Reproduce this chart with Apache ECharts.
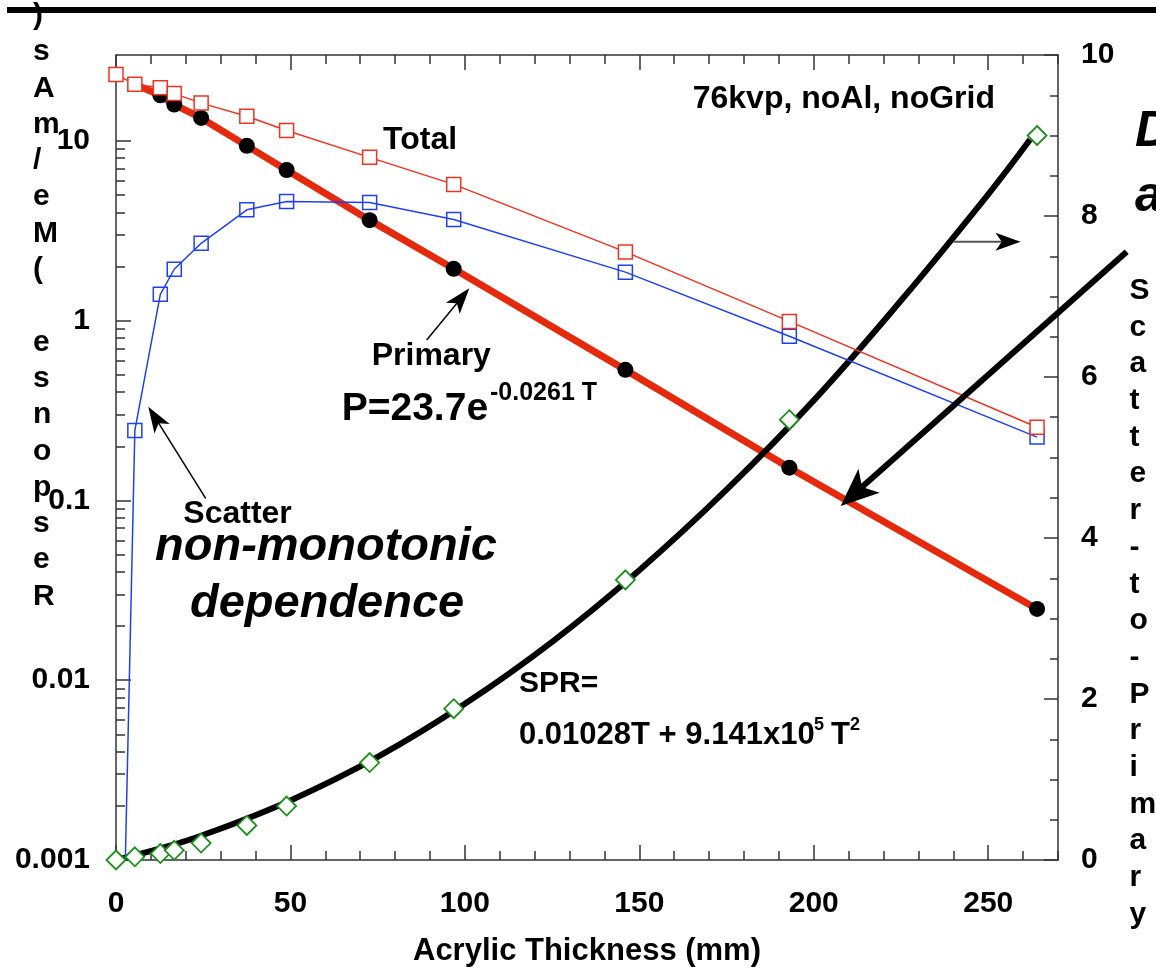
<!DOCTYPE html>
<html>
<head>
<meta charset="utf-8">
<title>Response vs Acrylic Thickness</title>
<script src="https://cdn.jsdelivr.net/npm/echarts@6.0.0/dist/echarts.min.js"></script>
<style>
  html, body { margin: 0; padding: 0; background: #fff; }
  #chart { width: 1156px; height: 968px; }
</style>
</head>
<body>
<div id="chart"></div>
<script>
// acrylic thickness (mm) of each measurement
var thickness = [0, 5.4, 12.7, 16.7, 24.4, 37.5, 48.9, 72.7, 96.8, 146, 193, 264];
// Total response (red squares), left log axis
var total = [23.4, 20.6, 19.7, 18.3, 16.2, 13.7, 11.4, 8.09, 5.72, 2.41, 0.99, 0.255];
// Scatter response (blue squares); first point is essentially zero (line leaves the axis)
var scatter = [0.0000045, 0.245, 1.40, 1.93, 2.69, 4.13, 4.60, 4.54, 3.65, 1.86, 0.818, 0.225];
// Primary response (black dots), first two hidden under the squares
var primary = [null, null, 17.9, 15.9, 13.4, 9.37, 6.88, 3.62, 1.94, 0.532, 0.152, 0.0249];
// thick red primary fit line
var primaryFitT = [5.4, 12.7, 16.7, 24.4, 37.5, 48.9, 72.7, 96.8, 146, 193, 264];
var primaryFit = [20.6, 17.9, 15.9, 13.4, 9.37, 6.88, 3.62, 1.94, 0.532, 0.152, 0.0249];
// scatter-to-primary ratio (green diamonds), right axis
var spr = [0, 0.04, 0.08, 0.12, 0.21, 0.43, 0.67, 1.21, 1.88, 3.48, 5.47, 9.0];
// black SPR fit curve
var sprFitT = [0, 12.5, 25, 50, 75, 100, 125, 150, 175, 200, 225, 250, 262];
var sprFit = [0, 0.14, 0.31, 0.74, 1.28, 1.94, 2.71, 3.6, 4.6, 5.71, 6.95, 8.27, 8.95];

var xMajorTicks = [0, 50, 100, 150, 200, 250];
var yLeftTitle = 'Response (Me/mAs)';
var yRightTitle = 'Scatter-to-Primary';

// minor ticks of the log axis: 2..9 in every decade
var logMinorTicks = [];
for (var k = -3; k <= 0; k++) {
    for (var m = 2; m <= 9; m++) {
        logMinorTicks.push(+(m * Math.pow(10, k)).toPrecision(3));
    }
}

var FONT = '"Liberation Sans", Arial, Helvetica, sans-serif';
var AXIS_COLOR = '#333';
var RED = '#ee3322';
var RED_THICK = '#e5290d';
var BLUE = '#2040f0';
var GREEN = '#1a8f1a';

function pairs(xs, ys) {
    var out = [];
    for (var i = 0; i < xs.length; i++) {
        if (ys[i] != null) out.push([xs[i], ys[i]]);
    }
    return out;
}

// text placed by its baseline
function txt(str, x, base, size, style) {
    return {
        type: 'text', x: x, y: base - 0.35 * size, z: 100,
        style: {
            text: str,
            font: (style || 'bold') + ' ' + size + 'px ' + FONT,
            fill: '#000',
            align: 'left',
            verticalAlign: 'middle'
        }
    };
}

// arrow from (x1,y1) to tip (x2,y2)
function arrow(x1, y1, x2, y2, w, headLen, headW, color, headColor) {
    var dx = x2 - x1, dy = y2 - y1;
    var len = Math.sqrt(dx * dx + dy * dy);
    var ux = dx / len, uy = dy / len;
    var px = -uy, py = ux;
    var bx = x2 - ux * headLen, by = y2 - uy * headLen;
    var nx = x2 - ux * headLen * 0.75, ny = y2 - uy * headLen * 0.75;
    return [
        { type: 'line', z: 100, shape: { x1: x1, y1: y1, x2: nx, y2: ny },
          style: { stroke: color, lineWidth: w } },
        { type: 'polygon', z: 100,
          shape: { points: [[x2, y2], [bx + px * headW / 2, by + py * headW / 2], [nx, ny], [bx - px * headW / 2, by - py * headW / 2]] },
          style: { fill: headColor || color } }
    ];
}

function stacked(str) {
    return str.split('').join('\n');
}

var labelStyle = { color: '#000', fontSize: 30, fontWeight: 'bold', fontFamily: FONT };

var graphics = [
    // rule at the top of the slide
    { type: 'line', z: 100, shape: { x1: 7, y1: 10, x2: 1156, y2: 10 }, style: { stroke: '#000', lineWidth: 6 } },
    {
        type: 'text', x: 33, y: -2.5, z: 100,
        style: {
            text: stacked(yLeftTitle.split('').reverse().join('')),
            font: 'bold 30px ' + FONT, fill: '#000', align: 'left', verticalAlign: 'top', lineHeight: 36.3
        }
    },
    {
        type: 'text', x: 1129.5, y: 272.3, z: 100,
        style: {
            text: stacked(yRightTitle),
            font: 'bold 30px ' + FONT, fill: '#000', align: 'left', verticalAlign: 'top', lineHeight: 36.7
        }
    },
    txt('76kvp, noAl, noGrid', 692.7, 110, 32),
    txt('Total', 383, 151.7, 32),
    txt('Primary', 371.7, 367.3, 32),
    txt('P=23.7e', 341.7, 422.7, 39),
    txt('-0.0261 T', 490, 401.7, 25),
    txt('Scatter', 183.3, 525, 32),
    txt('non-monotonic', 155, 563.3, 47, 'italic bold'),
    txt('dependence', 190, 620, 47, 'italic bold'),
    txt('SPR=', 519, 694.3, 30),
    txt('0.01028T + 9.141x10', 519, 746.7, 31),
    txt('5', 814, 731.7, 18),
    txt('T', 831, 746.7, 31),
    txt('2', 850, 731.7, 18),
    txt('D', 1135, 150, 50, 'italic bold'),
    txt('a', 1135, 215, 50, 'italic bold')
];
graphics = graphics
    .concat(arrow(205.7, 498.3, 148.3, 406.7, 1.5, 26, 18, '#000'))
    .concat(arrow(426.7, 340, 469.3, 288.3, 1.5, 26, 18, '#000'))
    .concat(arrow(953.5, 241.7, 1020.5, 241.7, 2, 25, 18, '#555', '#000'))
    .concat(arrow(1126.7, 251.7, 840.7, 506, 6, 38, 32, '#000'));

var option = {
    animation: false,
    backgroundColor: '#fff',
    grid: { left: 116, top: 55, width: 942, height: 805, containLabel: false, outerBoundsMode: 'none' },
    xAxis: [
        {
            type: 'value', min: 0, max: 270, position: 'bottom',
            name: 'Acrylic Thickness (mm)', nameLocation: 'middle', nameGap: 76,
            nameTextStyle: { color: '#000', fontSize: 31, fontWeight: 'bold', fontFamily: FONT },
            axisLine: { show: true, onZero: false, lineStyle: { color: AXIS_COLOR, width: 1.5 } },
            axisTick: { show: true, inside: true, length: 15, customValues: xMajorTicks, lineStyle: { color: AXIS_COLOR, width: 1.5 } },
            axisLabel: Object.assign({ margin: 29, customValues: xMajorTicks }, labelStyle),
            splitLine: { show: false }
        },
        {
            type: 'value', min: 0, max: 270, interval: 10, position: 'bottom',
            axisLine: { show: false, onZero: false },
            axisTick: { show: true, inside: true, length: 9, lineStyle: { color: AXIS_COLOR, width: 1.5 } },
            axisLabel: { show: false },
            splitLine: { show: false }
        },
        {
            type: 'value', min: 0, max: 270, position: 'top',
            axisLine: { show: true, onZero: false, lineStyle: { color: AXIS_COLOR, width: 1.5 } },
            axisTick: { show: true, inside: true, length: 15, customValues: xMajorTicks, lineStyle: { color: AXIS_COLOR, width: 1.5 } },
            axisLabel: { show: false },
            splitLine: { show: false }
        },
        {
            type: 'value', min: 0, max: 270, interval: 10, position: 'top',
            axisLine: { show: false, onZero: false },
            axisTick: { show: true, inside: true, length: 9, lineStyle: { color: AXIS_COLOR, width: 1.5 } },
            axisLabel: { show: false },
            splitLine: { show: false }
        }
    ],
    yAxis: [
        {
            type: 'log', logBase: 10, min: 0.001, max: 30, position: 'left',
            axisLine: { show: true, onZero: false, lineStyle: { color: AXIS_COLOR, width: 1.5 } },
            axisTick: { show: true, inside: true, length: 15, lineStyle: { color: AXIS_COLOR, width: 1.5 } },
            axisLabel: Object.assign({ margin: 26, showMaxLabel: false }, labelStyle),
            splitLine: { show: false }
        },
        {
            type: 'value', min: 0, max: 10, interval: 2, position: 'right',
            axisLine: { show: true, onZero: false, lineStyle: { color: AXIS_COLOR, width: 1.5 } },
            axisTick: { show: true, inside: true, length: 14, lineStyle: { color: AXIS_COLOR, width: 1.5 } },
            minorTick: { show: true, splitNumber: 4, length: 8, lineStyle: { color: AXIS_COLOR, width: 1.5 } },
            axisLabel: Object.assign({ margin: 23 }, labelStyle),
            splitLine: { show: false }
        },
        {
            type: 'log', logBase: 10, min: 0.001, max: 30, position: 'left',
            axisLine: { show: false, onZero: false },
            axisTick: { show: true, inside: true, length: 9, customValues: logMinorTicks, lineStyle: { color: AXIS_COLOR, width: 1.5 } },
            axisLabel: { show: false },
            splitLine: { show: false }
        }
    ],
    series: [
        {
            name: 'Primary fit', type: 'line', xAxisIndex: 0, yAxisIndex: 0,
            data: pairs(primaryFitT, primaryFit),
            symbol: 'none', clip: false, z: 2,
            lineStyle: { color: RED_THICK, width: 7 }
        },
        {
            name: 'SPR fit', type: 'line', xAxisIndex: 0, yAxisIndex: 1,
            data: pairs(sprFitT, sprFit),
            symbol: 'none', smooth: 0.4, clip: false, z: 3,
            lineStyle: { color: '#000', width: 6 }
        },
        {
            name: 'Primary', type: 'scatter', xAxisIndex: 0, yAxisIndex: 0,
            data: pairs(thickness, primary),
            symbol: 'circle', symbolSize: 16, clip: false, z: 4,
            itemStyle: { color: '#000', opacity: 1 }
        },
        {
            name: 'Scatter', type: 'line', xAxisIndex: 0, yAxisIndex: 0,
            data: pairs(thickness, scatter),
            symbol: 'rect', symbolSize: 14, clip: true, z: 5,
            lineStyle: { color: BLUE, width: 1.5 },
            itemStyle: { color: 'rgba(255,255,255,0)', borderColor: BLUE, borderWidth: 1.5 }
        },
        {
            name: 'Total', type: 'line', xAxisIndex: 0, yAxisIndex: 0,
            data: pairs(thickness, total),
            symbol: 'rect', symbolSize: 14, clip: false, z: 6,
            lineStyle: { color: RED, width: 1.5 },
            itemStyle: { color: '#fff', borderColor: RED, borderWidth: 1.5 }
        },
        {
            name: 'SPR', type: 'scatter', xAxisIndex: 0, yAxisIndex: 1,
            data: pairs(thickness, spr),
            symbol: 'diamond', symbolSize: 19, clip: false, z: 7,
            itemStyle: { color: '#fff', borderColor: GREEN, borderWidth: 1.8, opacity: 1 }
        }
    ],
    graphic: graphics
};

var chart = echarts.init(document.getElementById('chart'), null, { renderer: 'canvas' });
chart.setOption(option);
</script>
</body>
</html>
